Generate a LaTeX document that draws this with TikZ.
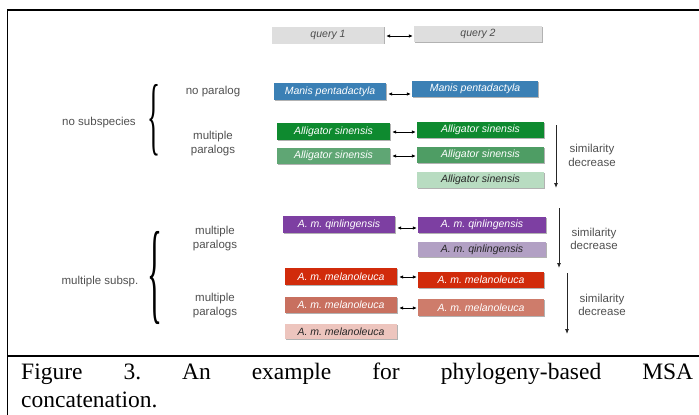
\documentclass[tikz,border=0pt]{standalone}
\usepackage{fontspec}
\setmainfont{Liberation Serif}
\setsansfont{Liberation Sans}
\usetikzlibrary{arrows.meta,shadows}
\definecolor{qgray}{HTML}{DEDEDE}
\definecolor{manis}{HTML}{3B80B5}
\definecolor{gA}{HTML}{0E8A2F}
\definecolor{gB}{HTML}{5FA674}
\definecolor{gC}{HTML}{4E9D64}
\definecolor{gD}{HTML}{B8DCC1}
\definecolor{pA}{HTML}{7D3FA2}
\definecolor{pB}{HTML}{B2A0C4}
\definecolor{rA}{HTML}{D12B0B}
\definecolor{rB}{HTML}{C8705F}
\definecolor{rC}{HTML}{CE7C6B}
\definecolor{rD}{HTML}{EDC5BE}
\definecolor{lbl}{HTML}{505050}
\tikzset{
  seqbox/.style={draw=none, fill=#1, inner sep=0pt, anchor=center,
    font=\sffamily\itshape\fontsize{10.5}{12}\selectfont, text=white,
    drop shadow={shadow xshift=0.6pt, shadow yshift=-0.8pt, opacity=0.3, fill=black}},
  darktext/.style={text=black!85},
  lab/.style={font=\sffamily\fontsize{11.5}{13.5}\selectfont, text=lbl, align=center, inner sep=0pt},
  dar/.style={{Latex[length=4pt,width=3.6pt]}-{Latex[length=4pt,width=3.6pt]}, line width=0.8pt, shorten <=2pt, shorten >=1pt},
  var/.style={-{Latex[length=5pt,width=4pt]}, line width=0.8pt, black!85},
  frameline/.style={line width=1.3pt, black},
  bracenode/.style={inner sep=0pt, font=\rmfamily\fontsize{12}{12}\selectfont}
}
\begin{document}
\frenchspacing
\begin{tikzpicture}[x=1pt,y=-1pt]
\useasboundingbox (0,0) rectangle (699,415);
% frame
\coordinate (tl) at (7.5,10);
\coordinate (tr) at (699,10);
\coordinate (ml) at (7.5,356);
\coordinate (mr) at (699,356);
\coordinate (bl) at (7.5,415);
\draw[frameline] (tr) -- (tl) -- (bl);
\draw[frameline] (ml) -- (mr);

% boxes
\node[seqbox=qgray, text=black!70, minimum width=112pt, minimum height=17pt] (q1) at (328,35) {query 1};
\node[seqbox=qgray, text=black!70, minimum width=128pt, minimum height=16pt] (q2) at (478,34) {query 2};
\node[seqbox=manis, minimum width=112pt, minimum height=17pt] (mL) at (330,91.5) {Manis pentadactyla};
\node[seqbox=manis, minimum width=126pt, minimum height=16pt] (mR) at (475,89) {Manis pentadactyla};
\node[seqbox=gA, minimum width=113pt, minimum height=17pt] (aL1) at (333.5,131.5) {Alligator sinensis};
\node[seqbox=gA, minimum width=127pt, minimum height=16pt] (aR1) at (480.5,130) {Alligator sinensis};
\node[seqbox=gB, minimum width=113pt, minimum height=16pt] (aL2) at (333.5,156) {Alligator sinensis};
\node[seqbox=gC, minimum width=127pt, minimum height=16pt] (aR2) at (480.5,155) {Alligator sinensis};
\node[seqbox=gD, darktext, minimum width=127pt, minimum height=16pt] (aR3) at (480.5,180) {Alligator sinensis};
\node[seqbox=pA, minimum width=112pt, minimum height=17pt] (qL) at (339,224.5) {A. m. qinlingensis};
\node[seqbox=pA, minimum width=128pt, minimum height=16pt] (qR) at (482,225) {A. m. qinlingensis};
\node[seqbox=pB, darktext, minimum width=128pt, minimum height=15pt] (qR2) at (482,249.5) {A. m. qinlingensis};
\node[seqbox=rA, minimum width=112pt, minimum height=17pt] (rL1) at (341,276.5) {A. m. melanoleuca};
\node[seqbox=rA, minimum width=126pt, minimum height=16pt] (rR1) at (481,280) {A. m. melanoleuca};
\node[seqbox=rB, minimum width=112pt, minimum height=16pt] (rL2) at (341,305) {A. m. melanoleuca};
\node[seqbox=rC, minimum width=126pt, minimum height=17pt] (rR2) at (481,307.5) {A. m. melanoleuca};
\node[seqbox=rD, darktext, minimum width=112pt, minimum height=15pt] (rL3) at (341,331.5) {A. m. melanoleuca};

% double arrows
\draw[dar] ([yshift=-1pt]q1.east) -- ([yshift=-2pt]q2.west);
\draw[dar] ([yshift=-2.5pt]mL.east) -- ([yshift=-5pt]mR.west);
\draw[dar] ([yshift=-0.5pt]aL1.east) -- ([yshift=-2pt]aR1.west);
\draw[dar] ([yshift=0pt]aL2.east) -- ([yshift=-1pt]aR2.west);
\draw[dar] ([yshift=-3.5pt]qL.east) -- ([yshift=-3pt]qR.west);
\draw[dar] ([yshift=-0.5pt]rL1.east) -- ([yshift=3pt]rR1.west);
\draw[dar] ([yshift=-3pt]rL2.east) -- ([yshift=-0.5pt]rR2.west);

% similarity arrows
\coordinate (s1a) at (556,125); \coordinate (s1b) at (556,188);
\coordinate (s2a) at (559,208); \coordinate (s2b) at (559,268);
\coordinate (s3a) at (567,273); \coordinate (s3b) at (567,334);
\draw[var] (s1a) -- (s1b);
\draw[var] (s2a) -- (s2b);
\draw[var] (s3a) -- (s3b);
\node[lab] (sd1) at (592,155.5) {similarity\\decrease};
\node[lab] (sd2) at (594,239) {similarity\\decrease};
\node[lab] (sd3) at (602,305) {similarity\\decrease};

% left labels
\node[lab] (np) at (213,92) {no paralog};
\node[lab] (mp1) at (213,143.5) {multiple\\paralogs};
\node[lab] (ns) at (99,123) {no subspecies};
\node[lab] (mp2) at (215,238.5) {multiple\\paralogs};
\node[lab] (mp3) at (215,305.5) {multiple\\paralogs};
\node[lab] (ms) at (100,282) {multiple subsp.};

% braces
\node[bracenode] (br1) at (153.5,120) {\resizebox{13pt}{60pt}{\{}};
\node[bracenode] (br2) at (155,278) {\resizebox{15pt}{78pt}{\{}};

% caption
\node[anchor=base west, inner sep=0pt, text width=672pt, align=justify,
  font=\rmfamily\fontsize{23.5}{28}\selectfont] (cap) at (21,379)
  {Figure 3. An example for phylogeny-based MSA\linebreak concatenation.};
\end{tikzpicture}
\end{document}
